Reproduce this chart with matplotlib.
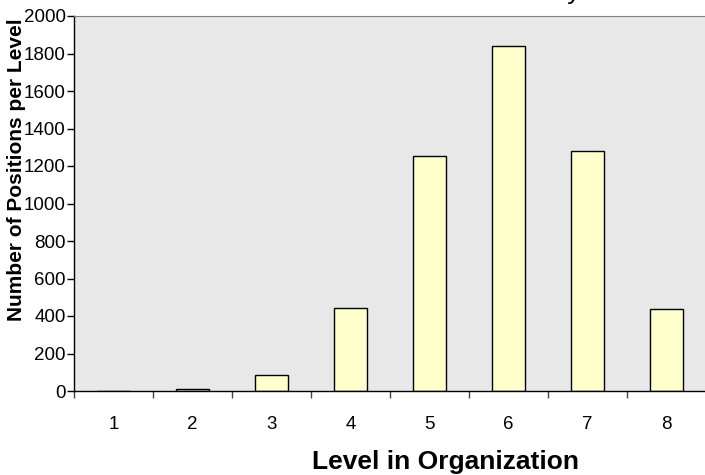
import matplotlib
matplotlib.use("Agg")
import matplotlib.pyplot as plt

plt.rcParams['font.family'] = ['Liberation Sans', 'DejaVu Sans']

levels = [1, 2, 3, 4, 5, 6, 7, 8]
positions = [0, 10, 85, 443, 1255, 1840, 1278, 438]
level_labels = ["1", "2", "3", "4", "5", "6", "7", "8"]
y_ticks = [0, 200, 400, 600, 800, 1000, 1200, 1400, 1600, 1800, 2000]

W, H = 705, 475
fig = plt.figure(figsize=(W / 100, H / 100), dpi=100)
ax = fig.add_axes([74 / W, 84 / H, 632 / W, 375 / H])
ax.set_facecolor("#E8E8E8")

ax.bar(levels, positions, width=0.43, color="#FFFFCC", edgecolor="black", linewidth=1)

ax.set_xlim(0.5, 8.5)
ax.set_ylim(0, 2000)
ax.set_yticks(y_ticks)
ax.set_yticklabels([str(v) for v in y_ticks], fontsize=13.5)
ax.tick_params(axis="y", direction="out", length=5, width=1, pad=1)

# tick marks between categories, labels at the centers
ax.set_xticks([i + 0.5 for i in range(0, 9)])
ax.set_xticklabels([])
ax.set_xticks(levels, minor=True)
ax.set_xticklabels(level_labels, minor=True, fontsize=13.5)
ax.tick_params(axis="x", which="major", direction="out", length=5, width=1, color="#444444")
ax.tick_params(axis="x", which="minor", length=0, pad=18)

for s in ["left", "bottom"]:
    ax.spines[s].set_color("black")
    ax.spines[s].set_linewidth(1)
ax.spines["top"].set_color("#808080")
ax.spines["right"].set_visible(False)

fig.text(17 / W, 1 - 170 / H, "Number of Positions per Level", rotation=90,
         ha="center", va="center", fontsize=15, fontweight="bold")
fig.text(445 / W, 1 - 462 / H, "Level in Organization",
         ha="center", va="center", fontsize=19, fontweight="bold")
# title sits above the top edge, only the tail of its last letter shows
fig.text(581 / W, 1 + 1.5 / H, "Distribution of Positions in the Hierarchy",
         ha="right", va="baseline", fontsize=19)

fig.savefig("out.png", dpi=100)
